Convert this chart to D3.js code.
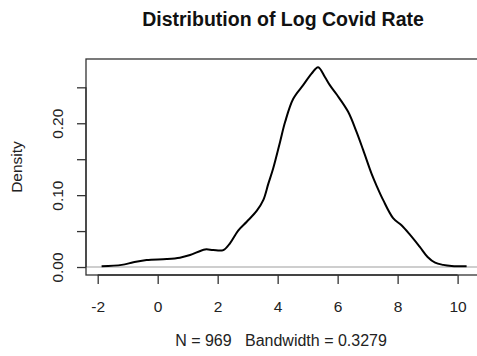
<!DOCTYPE html>
<html>
<head>
<meta charset="utf-8">
<script src="https://cdn.jsdelivr.net/npm/d3@7"></script>
<style>
  body { margin: 0; background: #fff; }
  svg { display: block; font-family: "Liberation Sans", Arial, sans-serif; }
</style>
</head>
<body>
<svg id="chart"></svg>
<script>
// density estimate
var logRate = [-1.87, -1.2, -0.81, -0.37, 0.3, 0.74, 1.08, 1.58, 1.85, 2.19, 2.41, 2.69, 2.97, 3.3, 3.52, 3.69,
  3.85, 4.08, 4.25, 4.52, 4.85, 5.13, 5.35, 5.58, 5.74, 5.97, 6.35, 6.63, 6.85, 7.13, 7.3, 7.52, 7.85,
  8.13, 8.41, 8.74, 9.0, 9.25, 9.52, 9.8, 10.3];
var density = [0.001, 0.003, 0.0065, 0.0097, 0.011, 0.013, 0.0167, 0.0245, 0.0236, 0.0236, 0.033, 0.051, 0.063, 0.078, 0.093, 0.116,
  0.137, 0.174, 0.202, 0.234, 0.253, 0.269, 0.278, 0.264, 0.253, 0.240, 0.216, 0.188, 0.163, 0.130, 0.113, 0.093, 0.068,
  0.058, 0.045, 0.028, 0.014, 0.006, 0.003, 0.0015, 0.001];

var xTicks = [-2, 0, 2, 4, 6, 8, 10];
var yTicks = [0, 0.05, 0.10, 0.15, 0.20, 0.25];
var yLabels = ["0.00", "", "0.10", "", "0.20", ""];

var title = "Distribution of Log Covid Rate";
var yTitle = "Density";
var subTitle = "N = 969   Bandwidth = 0.3279";

var width = 477, height = 356;
var svg = d3.select("#chart").attr("width", width).attr("height", height);

// plot box (right edge runs a little past the window, as in the original)
var box = { left: 86, top: 59, right: 481, bottom: 275 };

var x = d3.scaleLinear().domain([-2.39, 10.78]).range([box.left, box.right]);
var y = d3.scaleLinear().domain([-0.0111, 0.2894]).range([box.bottom, box.top]);

// zero line
svg.append("line")
  .attr("x1", box.left).attr("x2", box.right)
  .attr("y1", y(0)).attr("y2", y(0))
  .attr("stroke", "#bebebe")
  .attr("stroke-width", 1.5);

// the density curve
var line = d3.line()
  .x(function (d, i) { return x(logRate[i]); })
  .y(function (d) { return y(d); })
  .curve(d3.curveCatmullRom.alpha(0.5));

svg.append("path")
  .datum(density)
  .attr("d", line)
  .attr("fill", "none")
  .attr("stroke", "#000")
  .attr("stroke-width", 2)
  .attr("stroke-linejoin", "round");

// box
svg.append("rect")
  .attr("x", box.left).attr("y", box.top)
  .attr("width", box.right - box.left)
  .attr("height", box.bottom - box.top)
  .attr("fill", "none")
  .attr("stroke", "#333")
  .attr("stroke-width", 1.3);

// x axis
var xAxis = d3.axisBottom(x).tickValues(xTicks).tickSize(9).tickPadding(4).tickFormat(d3.format("d"));
var gx = svg.append("g")
  .attr("transform", "translate(0," + box.bottom + ")")
  .call(xAxis);
gx.select(".domain").attr("d", "M" + x(-2) + ",0H" + x(10)).attr("stroke", "#333").attr("stroke-width", 1.3);
gx.selectAll(".tick line").attr("stroke", "#333").attr("stroke-width", 1.3);
gx.selectAll(".tick text")
  .attr("y", 37).attr("dy", null)
  .attr("font-size", 15.5).attr("fill", "#222")
  .style("font-family", "Liberation Sans, Arial, sans-serif")
  .text(function (d) { return d < 0 ? "-" + Math.abs(d) : d; });

// y axis
var yAxis = d3.axisLeft(y).tickValues(yTicks).tickSize(9).tickFormat(function (d, i) { return yLabels[i]; });
var gy = svg.append("g")
  .attr("transform", "translate(" + box.left + ",0)")
  .call(yAxis);
gy.select(".domain").attr("d", "M0," + y(0) + "V" + y(0.25)).attr("stroke", "#333").attr("stroke-width", 1.3);
gy.selectAll(".tick line").attr("stroke", "#333").attr("stroke-width", 1.3);
gy.selectAll(".tick text")
  .attr("x", null).attr("dy", null)
  .attr("text-anchor", "middle")
  .attr("transform", "translate(-23,0) rotate(-90)")
  .attr("font-size", 15.5).attr("fill", "#222")
  .style("font-family", "Liberation Sans, Arial, sans-serif");

// titles
svg.append("text")
  .attr("x", 283).attr("y", 26)
  .attr("text-anchor", "middle")
  .attr("font-size", 19.5).attr("font-weight", "bold")
  .attr("fill", "#111")
  .text(title);

svg.append("text")
  .attr("transform", "translate(22," + (box.top + box.bottom) / 2 + ") rotate(-90)")
  .attr("text-anchor", "middle")
  .attr("font-size", 15.5).attr("fill", "#222")
  .text(yTitle);

svg.append("text")
  .attr("x", 281).attr("y", 346)
  .attr("text-anchor", "middle")
  .attr("font-size", 16).attr("fill", "#222")
  .style("white-space", "pre")
  .text(subTitle);
</script>
</body>
</html>
